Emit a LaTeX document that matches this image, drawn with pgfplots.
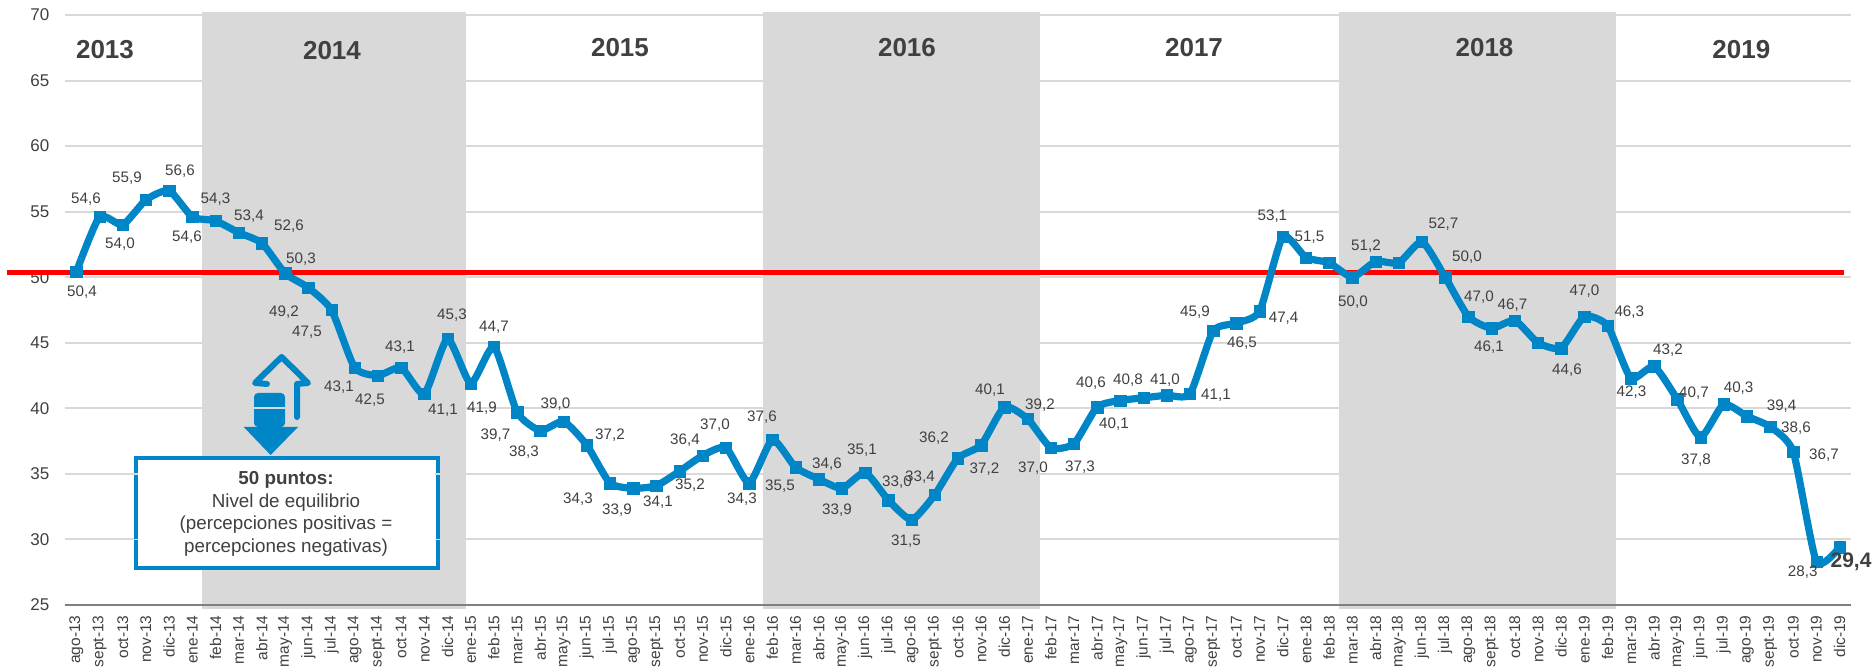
\documentclass[border=0pt]{standalone}
\usepackage{pgfplots}
\pgfplotsset{compat=1.18}
\usepackage{fontspec}
\setmainfont{Liberation Sans}
\definecolor{serie}{HTML}{0085C7}
\definecolor{txt}{HTML}{404040}
\definecolor{grid}{HTML}{D9D9D9}
\newcommand{\lab}[3]{\node[font=\fontsize{7.6}{9}\selectfont,text=txt,inner sep=0pt] at (#1,#2) {#3};}
\newcommand{\yr}[3]{\node[font=\fontsize{13}{15}\selectfont\bfseries,text=txt,inner sep=0pt] at (#1,#2) {#3};}
\begin{document}
\begin{tikzpicture}
\path[use as bounding box] (0pt,0pt) rectangle (938pt,-333.5pt);
\begin{axis}[
  at={(32.35pt,-302.5pt)}, anchor=south west,
  scale only axis, width=893.25pt, height=295pt,
  xmin=-0.5, xmax=76.5, ymin=25, ymax=70,
  clip=false,
  axis x line*=bottom, axis y line*=left,
  axis line style={draw=none},
  major tick length=0pt,
  ytick={25,30,...,70},
  ymajorgrids, grid style={draw=grid,line width=1pt},
  /pgf/number format/assume math mode=true,
  yticklabel style={font=\fontsize{8.5}{10}\selectfont,text=txt,xshift=-7.5pt,inner sep=0pt,anchor=east},
  xtick={0,1,...,76},
  xticklabels={ago-13,sept-13,oct-13,nov-13,dic-13,ene-14,feb-14,mar-14,abr-14,may-14,jun-14,jul-14,ago-14,sept-14,oct-14,nov-14,dic-14,ene-15,feb-15,mar-15,abr-15,may-15,jun-15,jul-15,ago-15,sept-15,oct-15,nov-15,dic-15,ene-16,feb-16,mar-16,abr-16,may-16,jun-16,jul-16,ago-16,sept-16,oct-16,nov-16,dic-16,ene-17,feb-17,mar-17,abr-17,may-17,jun-17,jul-17,ago-17,sept-17,oct-17,nov-17,dic-17,ene-18,feb-18,mar-18,abr-18,may-18,jun-18,jul-18,ago-18,sept-18,oct-18,nov-18,dic-18,ene-19,feb-19,mar-19,abr-19,may-19,jun-19,jul-19,ago-19,sept-19,oct-19,nov-19,dic-19},
  xticklabel style={font=\fontsize{7.75}{9}\selectfont,text=txt,rotate=90,anchor=east,inner sep=0pt,xshift=-5pt},
]
\fill[grid] (axis cs:5.42,24.72) rectangle (axis cs:16.80,70.23);
\fill[grid] (axis cs:29.60,24.72) rectangle (axis cs:41.52,70.23);
\fill[grid] (axis cs:54.43,24.72) rectangle (axis cs:66.37,70.23);
\addplot[draw=black!50,line width=1pt,forget plot] coordinates {(-0.5,25) (76.5,25)};
\addplot[draw=red,line width=2.5pt,forget plot] coordinates {(-2.97,50.35) (76.21,50.35)};
\addplot[draw=serie,line width=3.6pt,smooth,tension=0.35,mark=square*,mark size=2.85pt,
  mark options={fill=serie,draw=serie,line width=0.2pt}] coordinates {
(0,50.4)(1,54.6)(2,54.0)(3,55.9)(4,56.6)(5,54.6)(6,54.3)(7,53.4)(8,52.6)(9,50.3)
(10,49.2)(11,47.5)(12,43.1)(13,42.5)(14,43.1)(15,41.1)(16,45.3)(17,41.9)(18,44.7)(19,39.7)
(20,38.3)(21,39.0)(22,37.2)(23,34.3)(24,33.9)(25,34.1)(26,35.2)(27,36.4)(28,37.0)(29,34.3)
(30,37.6)(31,35.5)(32,34.6)(33,33.9)(34,35.1)(35,33.0)(36,31.5)(37,33.4)(38,36.2)(39,37.2)
(40,40.1)(41,39.2)(42,37.0)(43,37.3)(44,40.1)(45,40.6)(46,40.8)(47,41.0)(48,41.1)(49,45.9)
(50,46.5)(51,47.4)(52,53.1)(53,51.5)(54,51.1)(55,50.0)(56,51.2)(57,51.1)(58,52.7)(59,50.0)
(60,47.0)(61,46.1)(62,46.7)(63,45.0)(64,44.6)(65,47.0)(66,46.3)(67,42.3)(68,43.2)(69,40.7)
(70,37.8)(71,40.3)(72,39.4)(73,38.6)(74,36.7)(75,28.3)(76,29.4)};
\end{axis}
\begin{scope}[x=0.5pt,y=-0.5pt]
% years
\yr{105}{50}{2013}\yr{332}{51}{2014}\yr{620}{48}{2015}\yr{907}{48}{2016}\yr{1194}{48}{2017}\yr{1484.5}{48}{2018}\yr{1741.4}{50}{2019}
% value labels
\lab{86}{199}{54,6}\lab{127}{178}{55,9}\lab{180}{171}{56,6}\lab{120}{244}{54,0}\lab{187}{237}{54,6}
\lab{215.5}{199}{54,3}\lab{249}{216}{53,4}\lab{289}{226}{52,6}\lab{301}{259}{50,3}\lab{82}{292}{50,4}
\lab{284}{312}{49,2}\lab{307}{332}{47,5}\lab{452}{315}{45,3}\lab{494}{327}{44,7}
\lab{339}{387}{43,1}\lab{370}{400}{42,5}\lab{400}{347}{43,1}\lab{443}{410}{41,1}\lab{482}{408}{41,9}
\lab{495.5}{435}{39,7}\lab{524}{452}{38,3}\lab{555.5}{404}{39,0}\lab{610}{435}{37,2}\lab{578}{499}{34,3}\lab{617}{510}{33,9}
\lab{658}{502}{34,1}\lab{690}{485}{35,2}\lab{685}{440}{36,4}\lab{715}{425}{37,0}\lab{762}{417}{37,6}
\lab{742}{499}{34,3}\lab{780}{486}{35,5}\lab{827}{464}{34,6}\lab{837}{510}{33,9}\lab{862}{450}{35,1}
\lab{897}{482}{33,0}\lab{920}{477}{33,4}\lab{906}{541}{31,5}\lab{934}{438}{36,2}\lab{984.5}{469}{37,2}
\lab{990}{390}{40,1}\lab{1040}{405}{39,2}\lab{1033}{468}{37,0}\lab{1080}{467}{37,3}\lab{1091}{383}{40,6}
\lab{1114}{424}{40,1}\lab{1128}{380}{40,8}\lab{1165}{380}{41,0}\lab{1216}{395}{41,1}\lab{1242}{343}{46,5}
\lab{1195}{312}{45,9}\lab{1272.4}{216}{53,1}\lab{1309.5}{237}{51,5}\lab{1283.6}{318}{47,4}\lab{1366}{246}{51,2}
\lab{1353}{302}{50,0}\lab{1443.5}{224}{52,7}\lab{1467}{257}{50,0}\lab{1479}{297}{47,0}\lab{1512.5}{305}{46,7}
\lab{1584.5}{291}{47,0}\lab{1629.3}{312}{46,3}\lab{1489}{347}{46,1}\lab{1567}{370}{44,6}\lab{1631.5}{392}{42,3}
\lab{1668}{350}{43,2}\lab{1694}{393}{40,7}\lab{1696}{460}{37,8}\lab{1738.6}{388}{40,3}\lab{1781.6}{406}{39,4}
\lab{1796}{428}{38,6}\lab{1824}{455}{36,7}\lab{1802.7}{572}{28,3}
\node[font=\fontsize{10.5}{12}\selectfont\bfseries,text=txt,inner sep=0pt] at (1851,562) {29,4};
% arrows
\draw[serie,line width=3pt,line cap=round,line join=round] (267,384)--(255,383)--(281.6,357)--(308,383)--(297,384)--(297,417);
\fill[serie,rounded corners=2pt] (254,427)--(254,393)--(285,393)--(285,427)--cycle;
\fill[serie] (243.7,427)--(298,427)--(270.6,455)--cycle;
\draw[grid,line width=0.8pt] (254,408.3)--(285,408.3);
% box
\draw[serie,line width=2pt,fill=white] (135.5,458.5) rectangle (437.6,568.5);
\draw[grid,line width=0.8pt] (133.5,474)--(138,474) (435,474)--(439.6,474) (133.5,539.5)--(138,539.5) (435,539.5)--(439.6,539.5);
\node[font=\fontsize{9.4}{11.3}\selectfont\bfseries,text=txt,inner sep=0pt] at (286,480) {50 puntos:};
\node[font=\fontsize{9.4}{11.3}\selectfont,text=txt,inner sep=0pt] at (286,503) {Nivel de equilibrio};
\node[font=\fontsize{9.4}{11.3}\selectfont,text=txt,inner sep=0pt] at (286,525) {(percepciones positivas =};
\node[font=\fontsize{9.4}{11.3}\selectfont,text=txt,inner sep=0pt] at (286,548) {percepciones negativas)};
\end{scope}
\end{tikzpicture}
\end{document}
